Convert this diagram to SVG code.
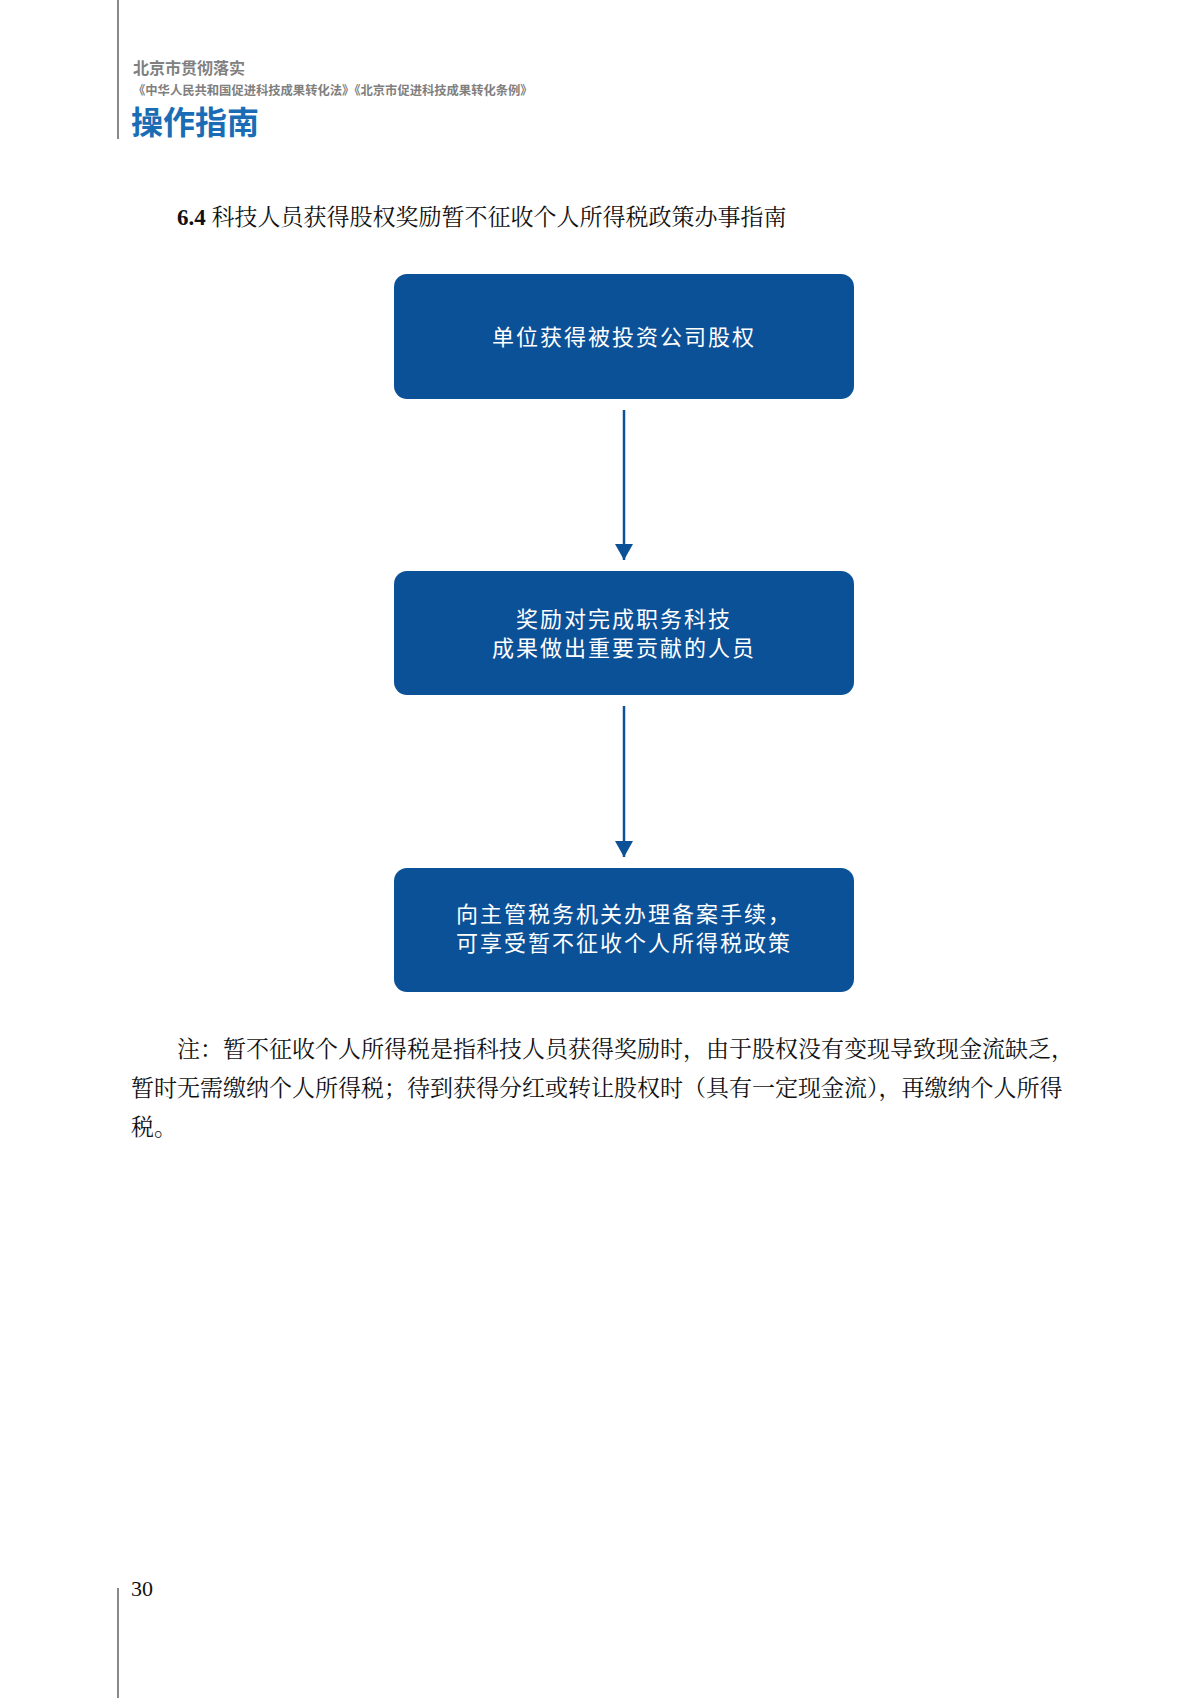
<svg xmlns="http://www.w3.org/2000/svg" width="1200" height="1698" viewBox="0 0 1200 1698">
<style>
.box{fill:#0b5198}
.bt{fill:#fff;font-family:"Noto Sans CJK SC",sans-serif;font-size:22px;letter-spacing:2px;text-anchor:middle}
.body{font-family:"Liberation Serif","Noto Serif CJK SC","Noto Sans CJK SC",serif;font-size:23px;fill:#111}
.conn{stroke:#0b5198;stroke-width:2.5;fill:none}
</style>
<defs>
<marker id="a2" viewBox="0 0 16 18" refX="16" refY="9" markerWidth="16" markerHeight="18" orient="auto" markerUnits="userSpaceOnUse"><path d="M0,0 L16,9 L0,18 Z" fill="#0b5198"/></marker></defs>
<rect width="1200" height="1698" fill="#fff"/>
<line x1="118" y1="0" x2="118" y2="139" stroke="#888" stroke-width="2"/>
<line x1="118" y1="1588" x2="118" y2="1698" stroke="#888" stroke-width="2"/>
<text x="133" y="74" font-family="Noto Sans CJK SC,sans-serif" font-size="16" font-weight="bold" fill="#808080">北京市贯彻落实</text>
<text x="133" y="95" font-family="Noto Sans CJK SC,sans-serif" font-size="12.3" font-weight="bold" fill="#808080">《中华人民共和国促进科技成果转化法》《北京市促进科技成果转化条例》</text>
<text x="131" y="134" font-family="Noto Sans CJK SC,sans-serif" font-size="32" font-weight="bold" fill="#1a6db5">操作指南</text>
<text x="177" y="225" class="body" font-size="23.5"><tspan font-weight="bold">6.4</tspan> 科技人员获得股权奖励暂不征收个人所得税政策办事指南</text>
<g id="connectors">
<line class="conn" x1="624" y1="410" x2="624" y2="560" marker-end="url(#a2)"/>
<line class="conn" x1="624" y1="706" x2="624" y2="857" marker-end="url(#a2)"/>
</g>
<g id="n1"><rect class="box" x="394" y="274" width="460" height="125" rx="13"/><text class="bt" x="624" y="345">单位获得被投资公司股权</text></g>
<g id="n2"><rect class="box" x="394" y="571" width="460" height="124" rx="13"/><text class="bt" x="624" y="627">奖励对完成职务科技</text><text class="bt" x="624" y="656">成果做出重要贡献的人员</text></g>
<g id="n3"><rect class="box" x="394" y="868" width="460" height="124" rx="13"/><text class="bt" x="624" y="922">向主管税务机关办理备案手续，</text><text class="bt" x="624" y="951">可享受暂不征收个人所得税政策</text></g>
<text class="body" x="177" y="1057">注：暂不征收个人所得税是指科技人员获得奖励时，由于股权没有变现导致现金流缺乏，</text>
<text class="body" x="131" y="1096">暂时无需缴纳个人所得税；待到获得分红或转让股权时（具有一定现金流），再缴纳个人所得</text>
<text class="body" x="131" y="1135">税。</text>
<text x="131" y="1596" font-family="Liberation Serif,serif" font-size="22" fill="#111">30</text>
</svg>
